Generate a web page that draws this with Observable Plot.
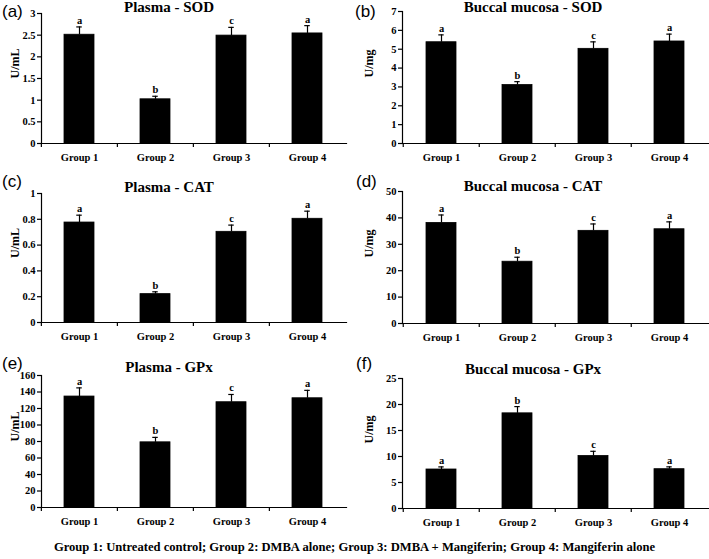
<!DOCTYPE html>
<html><head><meta charset="utf-8">
<script src="https://cdn.jsdelivr.net/npm/d3@7"></script>
<script src="https://cdn.jsdelivr.net/npm/@observablehq/plot@0.6"></script>
<style>
body{margin:0;background:#fff;}
#root{position:relative;width:709px;height:559px;overflow:hidden;font-family:"Liberation Serif","Times New Roman",serif;background:#fff;}
.panel{position:absolute;}
.panel svg{font-family:"Liberation Serif","Times New Roman",serif !important;font-size:10.5px !important;font-weight:bold !important;background:transparent !important;overflow:visible !important;}
.title{position:absolute;font-weight:bold;font-size:15px;transform:translateX(-50%);white-space:nowrap;line-height:1;color:#000;}
.letter{position:absolute;font-family:"Liberation Sans",Arial,sans-serif;font-size:17px;line-height:1;color:#000;}
.caption{position:absolute;left:0;width:709px;top:541px;text-align:center;font-family:"Liberation Serif","Times New Roman",serif;font-weight:bold;font-size:12.6px;line-height:1;color:#000;white-space:nowrap;}
</style></head>
<body><div id="root"></div>
<script>
const groups = ["Group 1", "Group 2", "Group 3", "Group 4"];
const sigLetters = ["a", "b", "c", "a"];

const plasmaSOD = [2.51, 1.02, 2.49, 2.54];
const plasmaSODErr = [0.18, 0.07, 0.19, 0.18];
const buccalSOD = [5.37, 3.10, 5.02, 5.41];
const buccalSODErr = [0.39, 0.18, 0.37, 0.39];
const plasmaCAT = [0.775, 0.22, 0.703, 0.804];
const plasmaCATErr = [0.057, 0.018, 0.052, 0.059];
const buccalCAT = [38.1, 23.4, 35.1, 35.7];
const buccalCATErr = [3.0, 1.7, 2.6, 2.8];
const plasmaGPx = [134.5, 79, 127.6, 132.4];
const plasmaGPxErr = [10.5, 6, 9.4, 9.6];
const buccalGPx = [7.5, 18.3, 10.1, 7.56];
const buccalGPxErr = [0.5, 1.3, 0.9, 0.45];

const ticksPlasmaSOD = [0, 0.5, 1, 1.5, 2, 2.5, 3];
const ticksBuccalSOD = [0, 1, 2, 3, 4, 5, 6, 7];
const ticksPlasmaCAT = [0, 0.2, 0.4, 0.6, 0.8, 1];
const ticksBuccalCAT = [0, 10, 20, 30, 40, 50];
const ticksPlasmaGPx = [0, 20, 40, 60, 80, 100, 120, 140, 160];
const ticksBuccalGPx = [0, 5, 10, 15, 20, 25];

const panelLetters = ["(a)", "(b)", "(c)", "(d)", "(e)", "(f)"];
const titles = ["Plasma - SOD", "Buccal mucosa - SOD", "Plasma - CAT", "Buccal mucosa - CAT", "Plasma - GPx", "Buccal mucosa - GPx"];
const yLabels = ["U/mL", "U/mg", "U/mL", "U/mg", "U/mL", "U/mg"];
const captionText = "Group 1: Untreated control; Group 2: DMBA alone; Group 3: DMBA + Mangiferin; Group 4: Mangiferin alone";

const panels = [
  {vals: plasmaSOD, errs: plasmaSODErr, ticks: ticksPlasmaSOD, left: 0, top: 0, width: 354, ml: 41, mr: 8, mt: 13, mb: 37, labelX: 15, titleX: 169, titleTop: 0, letterX: 2, letterTop: 3},
  {vals: buccalSOD, errs: buccalSODErr, ticks: ticksBuccalSOD, left: 354, top: 0, width: 355, ml: 48, mr: 1, mt: 11, mb: 37, labelX: 15, titleX: 533, titleTop: 0, letterX: 355, letterTop: 3},
  {vals: plasmaCAT, errs: plasmaCATErr, ticks: ticksPlasmaCAT, left: 0, top: 180, width: 354, ml: 41, mr: 8, mt: 13, mb: 38, labelX: 15, titleX: 169, titleTop: 180, letterX: 2, letterTop: 173},
  {vals: buccalCAT, errs: buccalCATErr, ticks: ticksBuccalCAT, left: 354, top: 180, width: 355, ml: 48, mr: 1, mt: 11, mb: 37, labelX: 15, titleX: 533, titleTop: 179, letterX: 356, letterTop: 173},
  {vals: plasmaGPx, errs: plasmaGPxErr, ticks: ticksPlasmaGPx, left: 0, top: 365, width: 354, ml: 41, mr: 8, mt: 10, mb: 38, labelX: 15, titleX: 169, titleTop: 360, letterX: 2, letterTop: 355},
  {vals: buccalGPx, errs: buccalGPxErr, ticks: ticksBuccalGPx, left: 354, top: 365, width: 355, ml: 48, mr: 1, mt: 13, mb: 37, labelX: 15, titleX: 533, titleTop: 362, letterX: 356, letterTop: 355}
];

const root = document.getElementById("root");
const H = 180;
const serif = "'Liberation Serif', 'Times New Roman', serif";

panels.forEach((p, i) => {
  const data = groups.map((g, j) => ({group: g, value: p.vals[j], hi: p.vals[j] + p.errs[j], letter: sigLetters[j]}));
  const range = p.width - p.ml - p.mr;
  const step = range / groups.length;
  const bw = step * 0.4;
  const capW = 6;
  const chart = Plot.plot({
    width: p.width,
    height: H,
    marginLeft: p.ml,
    marginRight: p.mr,
    marginTop: p.mt,
    marginBottom: p.mb,
    x: {domain: groups, paddingInner: 0.6, paddingOuter: 0.3, label: null, axis: null},
    y: {domain: [p.ticks[0], p.ticks[p.ticks.length - 1]], label: null, axis: null},
    marks: [
      Plot.barY(data, {x: "group", y: "value", fill: "#000", stroke: "#000", strokeWidth: 0.8}),
      Plot.ruleX(data, {x: "group", y1: "value", y2: "hi", stroke: "#000", strokeWidth: 1.2}),
      Plot.tickY(data, {x: "group", y: "hi", stroke: "#000", strokeWidth: 1.2, insetLeft: (bw - capW) / 2, insetRight: (bw - capW) / 2}),
      Plot.text(data, {x: "group", y: "hi", text: "letter", lineAnchor: "bottom", dy: -3, fontFamily: serif, fontWeight: "bold", fontSize: 10.5, fill: "#000"}),
      Plot.frame({anchor: "left", stroke: "#000", strokeWidth: 1.2}),
      Plot.frame({anchor: "bottom", stroke: "#000", strokeWidth: 1.2}),
      Plot.axisY({ticks: p.ticks, tickSize: 4, tickPadding: 2, tickFormat: d => String(+d.toFixed(4)), stroke: "#000", strokeWidth: 1.2, fontFamily: serif, fontWeight: "bold", fontSize: 10.5, fill: "#000", label: null}),
      Plot.axisX({tickSize: 4, tickFormat: () => "", dx: -step / 2, stroke: "#000", strokeWidth: 1.2, label: null}),
      Plot.axisX({tickSize: 0, tickPadding: 10, fontFamily: serif, fontWeight: "bold", fontSize: 10.5, fill: "#000", label: null}),
      Plot.text([yLabels[i]], {frameAnchor: "left", dx: p.labelX - p.ml, rotate: -90, fontFamily: serif, fontWeight: "bold", fontSize: 12, fill: "#000"})
    ]
  });
  const wrap = document.createElement("div");
  wrap.className = "panel";
  wrap.style.left = p.left + "px";
  wrap.style.top = p.top + "px";
  wrap.appendChild(chart);
  root.appendChild(wrap);

  const t = document.createElement("div");
  t.className = "title";
  t.textContent = titles[i];
  t.style.left = p.titleX + "px";
  t.style.top = p.titleTop + "px";
  root.appendChild(t);

  const l = document.createElement("div");
  l.className = "letter";
  l.textContent = panelLetters[i];
  l.style.left = p.letterX + "px";
  l.style.top = p.letterTop + "px";
  root.appendChild(l);
});

const cap = document.createElement("div");
cap.className = "caption";
cap.textContent = captionText;
root.appendChild(cap);
</script>
</body></html>
